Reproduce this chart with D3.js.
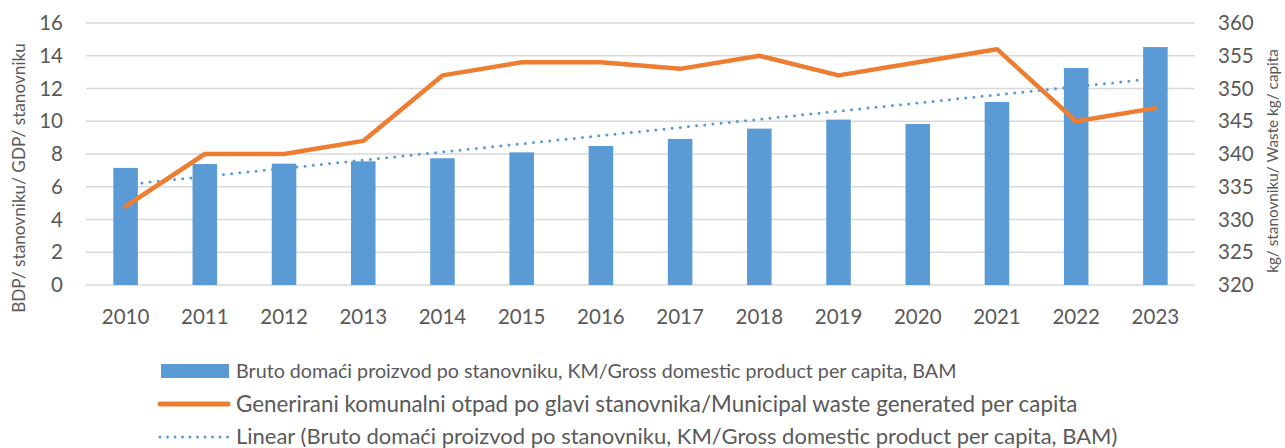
<!DOCTYPE html>
<html>
<head>
<meta charset="utf-8">
<script src="https://cdn.jsdelivr.net/npm/d3@7"></script>
<style>
  body { margin: 0; background: #fff; }
  svg text { font-family: Lato, "Open Sans", sans-serif; fill: #595959; }
</style>
</head>
<body>
<div id="chart"></div>
<script>
const years = ["2010", "2011", "2012", "2013", "2014", "2015", "2016", "2017", "2018", "2019", "2020", "2021", "2022", "2023"];
const gdpPerCapita = [7.15, 7.39, 7.41, 7.55, 7.74, 8.10, 8.49, 8.92, 9.55, 10.10, 9.83, 11.18, 13.25, 14.53];
const wastePerCapita = [332, 340, 340, 342, 352, 354, 354, 353, 355, 352, 354, 356, 345, 347];
const leftTicks = [0, 2, 4, 6, 8, 10, 12, 14, 16];
const rightTicks = [320, 325, 330, 335, 340, 345, 350, 355, 360];
const legendLabels = [
  "Bruto domaći proizvod po stanovniku, KM/Gross domestic product per capita, BAM",
  "Generirani komunalni otpad po glavi stanovnika/Municipal waste generated per capita",
  "Linear (Bruto domaći proizvod po stanovniku, KM/Gross domestic product per capita, BAM)"
];

const w = 1285, h = 448;
const padLeft = 86, padRight = 1195, padTop = 23, padBottom = 285;
const blue = "#5B9BD5", orange = "#ED7D31";

const svg = d3.select("#chart").append("svg")
  .attr("width", w)
  .attr("height", h);

const x = d3.scaleBand().domain(years).range([padLeft, padRight]).paddingInner(0.69).paddingOuter(0.345);
const yL = d3.scaleLinear().domain([0, 16]).range([padBottom, padTop]);
const yR = d3.scaleLinear().domain([320, 360]).range([padBottom, padTop]);
const cx = d => x(d) + x.bandwidth() / 2;

// gridlines
svg.append("g")
  .selectAll("line")
  .data(leftTicks)
  .enter()
  .append("line")
  .attr("x1", padLeft)
  .attr("x2", padRight)
  .attr("y1", d => yL(d))
  .attr("y2", d => yL(d))
  .attr("stroke", "#D9D9D9")
  .attr("stroke-width", 1.3);

// left axis
const axisL = svg.append("g")
  .attr("transform", "translate(" + padLeft + ",0)")
  .call(d3.axisLeft(yL).tickValues(leftTicks).tickSize(0).tickPadding(23));
axisL.select(".domain").remove();
axisL.selectAll("text").attr("font-size", 20.5).attr("fill", "#595959");

// right axis
const axisR = svg.append("g")
  .attr("transform", "translate(" + padRight + ",0)")
  .call(d3.axisRight(yR).tickValues(rightTicks).tickSize(0).tickPadding(23));
axisR.select(".domain").remove();
axisR.selectAll("text").attr("font-size", 20.5).attr("fill", "#595959");

// x axis
const axisX = svg.append("g")
  .attr("transform", "translate(0," + padBottom + ")")
  .call(d3.axisBottom(x).tickSize(0));
axisX.select(".domain").remove();
axisX.selectAll("text")
  .attr("y", 39)
  .attr("dy", 0)
  .attr("font-size", 20.5)
  .attr("fill", "#595959");

// trend line (least squares fit of the bars, like Excel's linear trendline)
const idx = gdpPerCapita.map((d, i) => i);
const mx = d3.mean(idx), my = d3.mean(gdpPerCapita);
const slope = d3.sum(idx, i => (i - mx) * (gdpPerCapita[i] - my)) / d3.sum(idx, i => (i - mx) * (i - mx));
const icpt = my - slope * mx;

svg.append("line")
  .attr("x1", cx(years[0]))
  .attr("y1", yL(icpt))
  .attr("x2", cx(years[years.length - 1]))
  .attr("y2", yL(icpt + slope * (years.length - 1)))
  .attr("stroke", blue)
  .attr("stroke-width", 3)
  .attr("stroke-linecap", "round")
  .attr("stroke-dasharray", "0 8.2");

// bars
svg.append("g")
  .selectAll("rect")
  .data(gdpPerCapita)
  .enter()
  .append("rect")
  .attr("x", (d, i) => x(years[i]))
  .attr("y", d => yL(d))
  .attr("width", x.bandwidth())
  .attr("height", d => padBottom - yL(d))
  .attr("fill", blue);

// waste line
const line = d3.line()
  .x((d, i) => cx(years[i]))
  .y(d => yR(d));

svg.append("path")
  .datum(wastePerCapita)
  .attr("d", line)
  .attr("fill", "none")
  .attr("stroke", orange)
  .attr("stroke-width", 4.5)
  .attr("stroke-linejoin", "round")
  .attr("stroke-linecap", "round");

// axis titles
svg.append("text")
  .text("BDP/ stanovniku/ GDP/ stanovniku")
  .attr("transform", "translate(25,178) rotate(-90)")
  .attr("text-anchor", "middle")
  .attr("font-size", 17.2);

svg.append("text")
  .text("kg/ stanovniku/ Waste kg/ capita")
  .attr("transform", "translate(1278,161) rotate(-90)")
  .attr("text-anchor", "middle")
  .attr("font-size", 15.3);

// legend
const lg = svg.append("g");
lg.append("rect")
  .attr("x", 161).attr("y", 364).attr("width", 68).attr("height", 14)
  .attr("fill", blue);
lg.append("line")
  .attr("x1", 160).attr("x2", 228).attr("y1", 404).attr("y2", 404)
  .attr("stroke", orange).attr("stroke-width", 5).attr("stroke-linecap", "round");
lg.append("line")
  .attr("x1", 160).attr("x2", 228).attr("y1", 437).attr("y2", 437)
  .attr("stroke", blue).attr("stroke-width", 3).attr("stroke-linecap", "round")
  .attr("stroke-dasharray", "0 7.5");

const legendY = [371, 404, 436];
const legendSize = [16, 19, 19];
const legendEnd = [957, 1078, 1118];
lg.selectAll("text.leg")
  .data(legendLabels)
  .enter()
  .append("text")
  .attr("class", "leg")
  .text(d => d)
  .attr("x", 236)
  .attr("y", (d, i) => legendY[i])
  .attr("dy", "0.35em")
  .attr("font-size", (d, i) => legendSize[i])
  .each(function (d, i) {
    // fit the text to the width it takes in the original
    const len = this.getComputedTextLength();
    const target = legendEnd[i] - 236;
    d3.select(this).attr("font-size", legendSize[i] * target / len);
  });
</script>
</body>
</html>
